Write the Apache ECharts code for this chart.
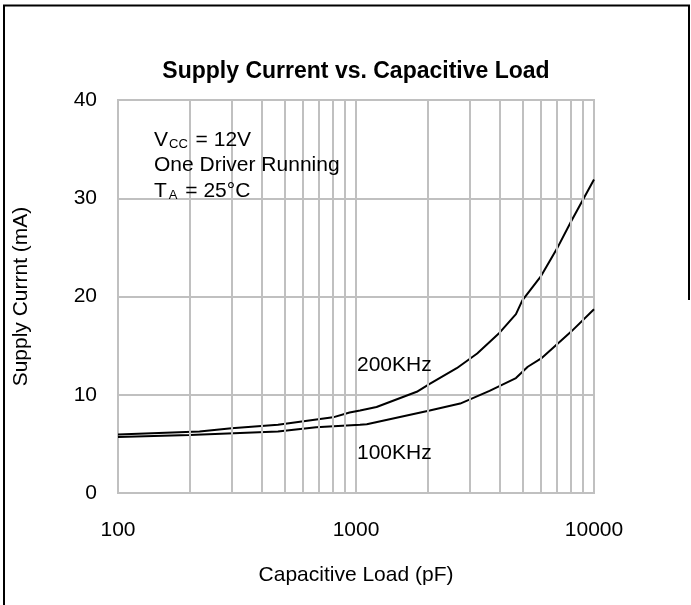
<!DOCTYPE html>
<html>
<head>
<meta charset="utf-8">
<script src="https://cdn.jsdelivr.net/npm/echarts@6/dist/echarts.min.js"></script>
<style>
  html, body { margin: 0; padding: 0; background: #fff; }
  #chart { width: 691px; height: 605px; }
</style>
</head>
<body>
<div id="chart"></div>
<script>
// 200KHz curve (load pF, supply mA)
var load200 = [100, 220, 300, 470, 800, 940, 1040, 1220, 1800, 2040, 2650, 3230, 3970, 4700, 5000, 6000, 7000, 8000, 10000];
var current200 = [5.95, 6.25, 6.6, 6.95, 7.7, 8.2, 8.4, 8.75, 10.3, 11.1, 12.7, 14.2, 16.2, 18.2, 19.6, 22.1, 24.9, 27.6, 31.9];

// 100KHz curve
var load100 = [100, 200, 470, 680, 1040, 1110, 2040, 2740, 3640, 4700, 5270, 6000, 8000, 10000];
var current100 = [5.7, 5.9, 6.25, 6.7, 6.95, 7.0, 8.4, 9.1, 10.4, 11.7, 12.85, 13.7, 16.4, 18.7];

// log grid, minor lines
var minorGrid = [200, 300, 400, 500, 600, 700, 800, 900, 2000, 3000, 4000, 5000, 6000, 7000, 8000, 9000];

var FONT = '"Liberation Sans", Arial, sans-serif';
var GRID_COLOR = '#c0c0c0';

function zip(xs, ys) {
    var out = [];
    for (var i = 0; i < xs.length; i++) out.push([xs[i], ys[i]]);
    return out;
}

var chart = echarts.init(document.getElementById('chart'));

var option = {
    animation: false,
    backgroundColor: '#fff',
    grid: {
        left: 118,
        right: 97,
        top: 100,
        bottom: 112,
        show: true,
        borderColor: GRID_COLOR,
        borderWidth: 2
    },
    xAxis: {
        type: 'log',
        logBase: 10,
        min: 100,
        max: 10000,
        name: 'Capacitive Load (pF)',
        nameLocation: 'middle',
        nameGap: 72,
        nameTextStyle: { fontFamily: FONT, fontSize: 21, color: '#000' },
        axisLine: { show: false },
        axisTick: { show: false },
        axisLabel: {
            margin: 27,
            fontFamily: FONT,
            fontSize: 21,
            color: '#000',
            formatter: function (v) { return String(Math.round(v)); }
        },
        splitLine: { show: true, lineStyle: { color: GRID_COLOR, width: 2 } }
    },
    yAxis: {
        type: 'value',
        min: 0,
        max: 40,
        interval: 10,
        name: 'Supply Currnt (mA)',
        nameLocation: 'middle',
        nameGap: 86,
        nameTextStyle: { fontFamily: FONT, fontSize: 21, color: '#000' },
        axisLine: { show: false },
        axisTick: { show: false },
        axisLabel: { margin: 21, fontFamily: FONT, fontSize: 21, color: '#000' },
        splitLine: { show: true, lineStyle: { color: GRID_COLOR, width: 2 } }
    },
    series: [
        {
            // minor vertical grid lines of the log axis
            type: 'line',
            data: [],
            silent: true,
            z: 1,
            markLine: {
                silent: true,
                symbol: ['none', 'none'],
                label: { show: false },
                lineStyle: { color: GRID_COLOR, width: 2, type: 'solid' },
                emphasis: { disabled: true },
                data: minorGrid.map(function (v) { return { xAxis: v }; })
            }
        },
        {
            name: '200KHz',
            type: 'line',
            data: zip(load200, current200),
            showSymbol: false,
            z: 3,
            lineStyle: { color: '#000', width: 2 },
            emphasis: { disabled: true }
        },
        {
            name: '100KHz',
            type: 'line',
            data: zip(load100, current100),
            showSymbol: false,
            z: 3,
            lineStyle: { color: '#000', width: 2 },
            emphasis: { disabled: true }
        }
    ],
    graphic: [
        // outer frame
        { type: 'line', shape: { x1: 4, y1: 5, x2: 4, y2: 605 }, style: { stroke: '#000', lineWidth: 2 } },
        { type: 'line', shape: { x1: 3, y1: 5.5, x2: 690, y2: 5.5 }, style: { stroke: '#000', lineWidth: 2 } },
        { type: 'line', shape: { x1: 689, y1: 5, x2: 689, y2: 300 }, style: { stroke: '#000', lineWidth: 2 } },
        {
            type: 'text', x: 356, y: 72,
            style: {
                text: 'Supply Current vs. Capacitive Load',
                font: 'bold 23px ' + FONT,
                fill: '#000', align: 'center', verticalAlign: 'middle'
            }
        },
        {
            type: 'text', x: 154, y: 140, z: 10,
            style: {
                text: '{n|V}{s|CC}{n| = 12V}',
                verticalAlign: 'middle',
                rich: {
                    n: { fontFamily: FONT, fontSize: 21, fill: '#000' },
                    s: { fontFamily: FONT, fontSize: 13, fill: '#000', verticalAlign: 'bottom', padding: [0, 2, 0, 1] }
                }
            }
        },
        {
            type: 'text', x: 154, y: 165, z: 10,
            style: {
                text: 'One Driver Running',
                font: '21px ' + FONT,
                fill: '#000', verticalAlign: 'middle'
            }
        },
        {
            type: 'text', x: 154, y: 191, z: 10,
            style: {
                text: '{n|T}{s|A}{n| = 25°C}',
                verticalAlign: 'middle',
                rich: {
                    n: { fontFamily: FONT, fontSize: 21, fill: '#000' },
                    s: { fontFamily: FONT, fontSize: 13, fill: '#000', verticalAlign: 'bottom', padding: [0, 2, 0, 2] }
                }
            }
        },
        {
            type: 'text', x: 357, y: 365, z: 10,
            style: { text: '200KHz', font: '21px ' + FONT, fill: '#000', verticalAlign: 'middle' }
        },
        {
            type: 'text', x: 357, y: 453, z: 10,
            style: { text: '100KHz', font: '21px ' + FONT, fill: '#000', verticalAlign: 'middle' }
        }
    ]
};

chart.setOption(option);
</script>
</body>
</html>
